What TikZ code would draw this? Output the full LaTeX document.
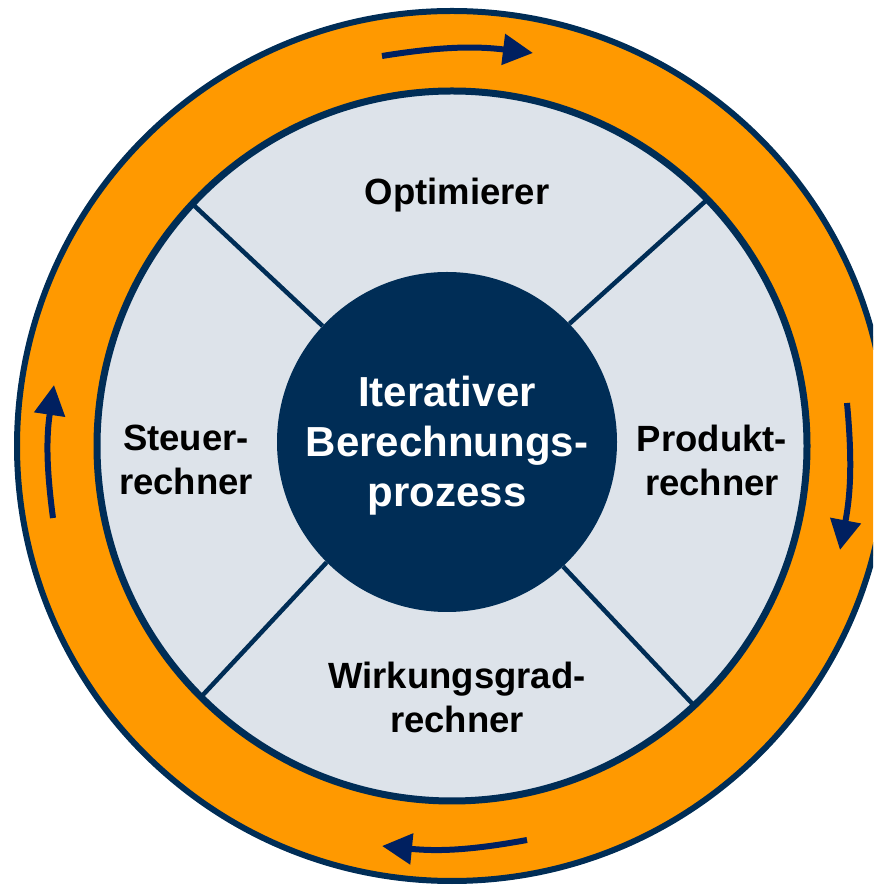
\documentclass[tikz,border=0pt]{standalone}
\usepackage{fontspec}
\setmainfont{Liberation Sans}
\usetikzlibrary{arrows.meta}

\definecolor{ringorange}{RGB}{255,153,0}
\definecolor{navy}{RGB}{0,45,86}
\definecolor{arrowblue}{RGB}{0,32,96}
\definecolor{panelgray}{RGB}{221,227,234}

\begin{document}
\begin{tikzpicture}[
    x=1pt, y=1pt,
    segtext/.style={align=center, inner sep=0pt, font=\fontsize{36.5}{44}\selectfont\bfseries},
    divider/.style={navy, line width=4.5pt},
    cyclearrow/.style={-{Triangle[length=30pt,width=30pt]}, arrowblue, line width=6pt, bend left=8}
]
\clip (0,0) rectangle (873,886);
\coordinate (o) at (452,440);

% Rings
\draw[navy, line width=6pt, fill=ringorange] (o) circle[radius=435];
\draw[navy, line width=7pt, fill=panelgray] (o) circle[radius=355];

% Center
\node (proc) [circle, fill=navy, minimum size=340pt, inner sep=0pt] at (447,444) {};
\node (proctext) [align=center, inner sep=0pt, text=white,
    font=\fontsize{42}{50}\selectfont\bfseries] at (447,440) {Iterativer\\Berechnungs-\\prozess};

% Dividers
\path (o) ++(44:355) coordinate (d1);
\path (o) ++(137:355) coordinate (d2);
\path (o) ++(225:355) coordinate (d3);
\path (o) ++(313:355) coordinate (d4);
\draw[divider] (proc.44) -- (d1);
\draw[divider] (proc.137) -- (d2);
\draw[divider] (proc.225) -- (d3);
\draw[divider] (proc.313) -- (d4);

% Segments
\node (opt) [segtext, anchor=base] at (457,681) {Optimierer};
\node (steu) [segtext] at (186,426) {Steuer-\\rechner};
\node (prod) [segtext] at (712,426) {Produkt-\\rechner};
\node (wirk) [segtext] at (457,189) {Wirkungsgrad-\\rechner};

% Cycle arrows
\coordinate (a1) at (382,830); \coordinate (b1) at (533,833);
\coordinate (a2) at (847,483); \coordinate (b2) at (840,336);
\coordinate (a3) at (527,46);  \coordinate (b3) at (382,40);
\coordinate (a4) at (53,368);  \coordinate (b4) at (54,501);
\draw[cyclearrow] (a1) to (b1);
\draw[cyclearrow] (a2) to (b2);
\draw[cyclearrow] (a3) to (b3);
\draw[cyclearrow] (a4) to (b4);
\end{tikzpicture}
\end{document}
